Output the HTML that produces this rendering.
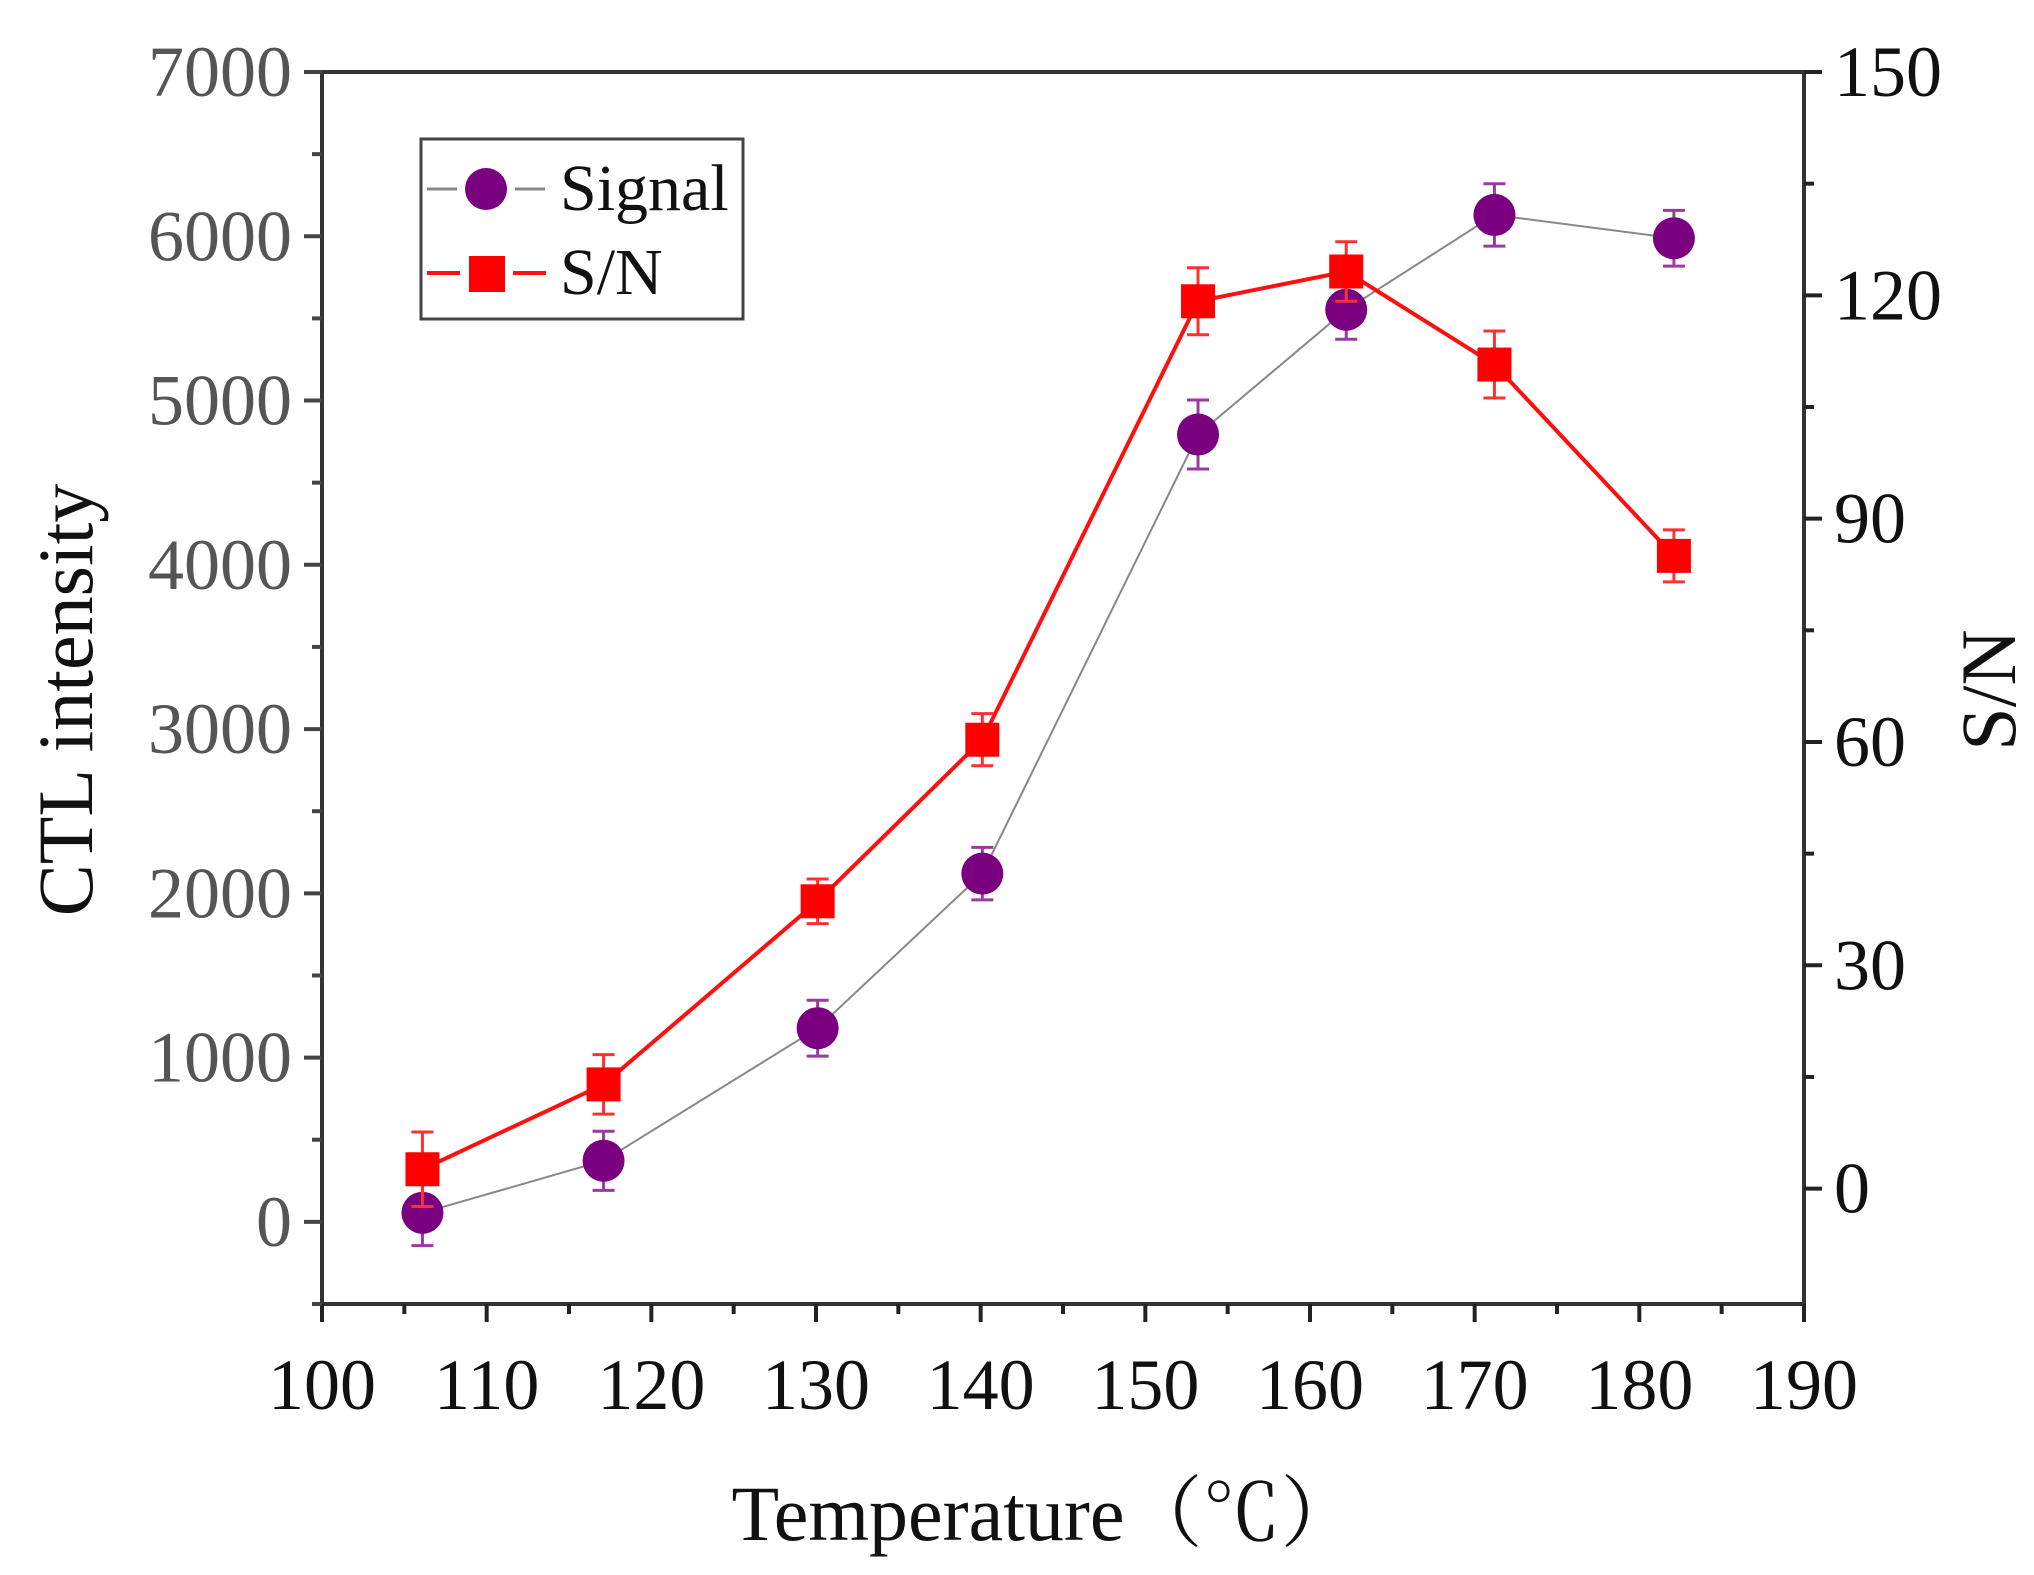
<!DOCTYPE html>
<html><head><meta charset="utf-8"><style>
html,body{margin:0;padding:0;background:#fff;}
svg{display:block;}
text{font-family:"Liberation Serif","Noto Serif CJK SC",serif;}
</style></head><body>
<svg id="chart" width="2034" height="1575" viewBox="0 0 2034 1575" xmlns="http://www.w3.org/2000/svg">
<g id="plot"></g>
</svg>
<script>
const temps = [106.1, 117.1, 130.1, 140.1, 153.2, 162.2, 171.2, 182.1];
const signal = [55, 372, 1179, 2120, 4793, 5553, 6130, 5988];
const signalErr = [200, 180, 170, 160, 210, 180, 190, 170];
const snr = [2.6, 14, 38.6, 60.3, 119.2, 123.2, 110.7, 85];
const snrErr = [5, 4, 3, 3.5, 4.5, 4, 4.5, 3.5];
const xTicks = [100, 110, 120, 130, 140, 150, 160, 170, 180, 190];
const yLeftTicks = [0, 1000, 2000, 3000, 4000, 5000, 6000, 7000];
const yRightTicks = [0, 30, 60, 90, 120, 150];

const L = 322, R = 1804, T = 72, B = 1304;
const X = v => L + (v - 100) / 90 * (R - L);
const YL = v => B - (v + 500) / 7500 * (B - T);
const YR = v => B - (v + 15.5) / 165.5 * (B - T);
const NS = 'http://www.w3.org/2000/svg';
const g = document.getElementById('plot');
function mk(tag, attrs, parent) {
  const e = document.createElementNS(NS, tag);
  for (const k in attrs) e.setAttribute(k, attrs[k]);
  (parent || g).appendChild(e);
  return e;
}
let e = mk('rect', {x: L, y: T, width: R - L, height: B - T, fill: 'none', stroke: '#333', 'stroke-width': 4});


for (let v = 100; v <= 190; v += 5) {
  const major = v % 10 === 0;
  e = mk('line', {x1: X(v), x2: X(v), y1: B, y2: B + (major ? 18 : 10), stroke: '#222', 'stroke-width': 4});
  
  
}
xTicks.forEach(v => {
  const t = mk('text', {x: X(v), y: B + 105, 'font-size': 72, 'text-anchor': 'middle', fill: '#111'});
  t.textContent = v;
  
  
});
for (let v = -500; v <= 7000; v += 500) {
  const major = v % 1000 === 0;
  e = mk('line', {x1: L - (major ? 18 : 10), x2: L, y1: YL(v), y2: YL(v), stroke: '#444', 'stroke-width': 4});
  
  
}
yLeftTicks.forEach(v => {
  const t = mk('text', {x: L - 30, y: YL(v) + 24, 'font-size': 72, 'text-anchor': 'end', fill: '#555'});
  t.textContent = v;
  
  
});
for (let v = 0; v <= 150; v += 15) {
  const major = v % 30 === 0;
  e = mk('line', {x1: R, x2: R + (major ? 18 : 10), y1: YR(v), y2: YR(v), stroke: '#222', 'stroke-width': 4});
  
  
}
yRightTicks.forEach(v => {
  const t = mk('text', {x: R + 30, y: YR(v) + 24, 'font-size': 72, 'text-anchor': 'start', fill: '#111'});
  t.textContent = v;
  
  
});
let t = mk('text', {x: 1045, y: 1540, 'font-size': 78, 'text-anchor': 'middle', fill: '#111'});
t.textContent = 'Temperature（℃）';


t = mk('text', {x: 0, y: 0, 'font-size': 78, 'text-anchor': 'middle', fill: '#111', transform: 'translate(92,700) rotate(-90)'});
t.textContent = 'CTL intensity';


t = mk('text', {x: 0, y: 0, 'font-size': 78, 'text-anchor': 'middle', fill: '#111', transform: 'translate(2015,690) rotate(-90)'});
t.textContent = 'S/N';


const sigPts = temps.map((x, i) => X(x) + ',' + YL(signal[i])).join(' ');
e = mk('polyline', {points: sigPts, fill: 'none', stroke: '#888', 'stroke-width': 2});


const snPts = temps.map((x, i) => X(x) + ',' + YR(snr[i])).join(' ');
e = mk('polyline', {points: snPts, fill: 'none', stroke: '#ff1010', 'stroke-width': 4});


function errbar(cx, y1, y2, color, name) {
  const gg = mk('g', {stroke: color, 'stroke-width': 3});
  
  
  mk('line', {x1: cx, x2: cx, y1: y1, y2: y2}, gg);
  mk('line', {x1: cx - 11, x2: cx + 11, y1: y1, y2: y1}, gg);
  mk('line', {x1: cx - 11, x2: cx + 11, y1: y2, y2: y2}, gg);
}
temps.forEach((x, i) => {
  errbar(X(x), YL(signal[i] + signalErr[i]), YL(signal[i] - signalErr[i]), '#9a3aa0', 'signal-error-bar');
  const c = mk('circle', {cx: X(x), cy: YL(signal[i]), r: 21, fill: '#7a0080'});
  
  
});
temps.forEach((x, i) => {
  errbar(X(x), YR(snr[i] + snrErr[i]), YR(snr[i] - snrErr[i]), '#ff3030', 'snr-error-bar');
  const s = mk('rect', {x: X(x) - 17, y: YR(snr[i]) - 17, width: 34, height: 34, fill: '#ff0000'});
  
  
});
const lg = mk('g', {});


mk('rect', {x: 421, y: 139, width: 322, height: 180, fill: '#fff', stroke: '#444', 'stroke-width': 3}, lg);
mk('line', {x1: 427, x2: 457, y1: 189, y2: 189, stroke: '#888', 'stroke-width': 3}, lg);
mk('line', {x1: 515, x2: 545, y1: 189, y2: 189, stroke: '#888', 'stroke-width': 3}, lg);
mk('circle', {cx: 486, cy: 189, r: 21, fill: '#7a0080'}, lg);
mk('line', {x1: 427, x2: 460, y1: 273, y2: 273, stroke: '#ff1010', 'stroke-width': 4}, lg);
mk('line', {x1: 513, x2: 546, y1: 273, y2: 273, stroke: '#ff1010', 'stroke-width': 4}, lg);
mk('rect', {x: 469, y: 256, width: 36, height: 36, fill: '#ff0000'}, lg);
t = mk('text', {x: 560, y: 210, 'font-size': 66, fill: '#111'}, lg);
t.textContent = 'Signal';


t = mk('text', {x: 560, y: 294, 'font-size': 66, fill: '#111'}, lg);
t.textContent = 'S/N';


</script>
</body></html>
